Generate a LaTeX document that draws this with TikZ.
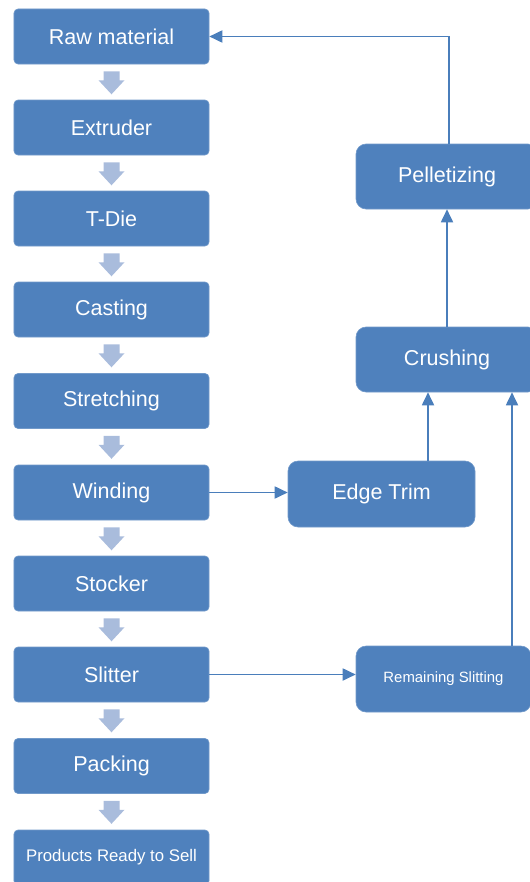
\documentclass[tikz,border=0pt]{standalone}
\usepackage{fontspec}
\setmainfont{Liberation Sans}
\usetikzlibrary{arrows.meta,calc}
\definecolor{boxblue}{HTML}{4F81BD}
\definecolor{lineblue}{HTML}{4A7EBB}
\definecolor{blockarr}{HTML}{A9BCDC}
\tikzset{
  leftbox/.style={fill=boxblue, draw=boxblue!80!white, line width=0.6bp, rounded corners=4bp,
    minimum width=195bp, minimum height=55bp, inner sep=0pt, text=white,
    font=\fontsize{21.5bp}{24bp}\selectfont},
  rightbox/.style={fill=boxblue, draw=boxblue!80!white, line width=0.6bp, rounded corners=10bp,
    minimum height=65bp, inner sep=0pt, text=white,
    font=\fontsize{21.5bp}{24bp}\selectfont},
  conn/.style={draw=lineblue, line width=1.8bp, -{Triangle[length=13bp,width=12bp]}},
  blockarrow/.style={fill=blockarr}
}
\newcommand{\blockarrowbetween}[1]{%
  \fill[blockarrow] ($(#1.south)+(-8,7)$) -- ($(#1.south)+(8,7)$) -- ($(#1.south)+(8,16)$)
    -- ($(#1.south)+(13,16)$) -- ($(#1.south)+(0,30)$) -- ($(#1.south)+(-13,16)$)
    -- ($(#1.south)+(-8,16)$) -- cycle;}
\begin{document}
\begin{tikzpicture}[x=1bp,y=-1bp]
\useasboundingbox (0,0) rectangle (530,882);
\clip (0,0) rectangle (530,882);
% left column
\node[leftbox] (raw)   at (111.5,36.5)  {Raw material};
\node[leftbox] (ext)   at (111.5,127.5) {Extruder};
\node[leftbox] (tdie)  at (111.5,218.5) {T-Die};
\node[leftbox] (cast)  at (111.5,309.5) {Casting};
\node[leftbox] (str)   at (111.5,401)   {Stretching};
\node[leftbox] (wind)  at (111.5,492.5) {Winding};
\node[leftbox] (stock) at (111.5,583.5) {Stocker};
\node[leftbox] (slit)  at (111.5,674.5) {Slitter};
\node[leftbox] (pack)  at (111.5,766)   {Packing};
\node[leftbox, font=\fontsize{16.8bp}{19bp}\selectfont] (prod) at (111.5,857.5) {Products Ready to Sell};
% block arrows
\blockarrowbetween{raw}
\blockarrowbetween{ext}
\blockarrowbetween{tdie}
\blockarrowbetween{cast}
\blockarrowbetween{str}
\blockarrowbetween{wind}
\blockarrowbetween{stock}
\blockarrowbetween{slit}
\blockarrowbetween{pack}
% right column
\node[rightbox, minimum width=182bp] (pel)   at (447,176.5) {Pelletizing};
\node[rightbox, minimum width=182bp] (crush) at (447,359.5) {Crushing};
\node[rightbox, minimum width=187bp, minimum height=66bp] (edge) at (381.5,494) {Edge Trim};
\node[rightbox, minimum width=175bp, minimum height=66bp, font=\fontsize{14.9bp}{17bp}\selectfont] (rem) at (443.5,679) {Remaining Slitting};
% connectors
\coordinate (ptop) at ([xshift=2bp]pel.north);
\coordinate (etop) at ([xshift=46.5bp]edge.north);
\coordinate (rtop) at ([xshift=68.5bp]rem.north);
\draw[conn] (ptop) |- (raw.east);
\draw[conn] (crush.north) -- (pel.south);
\draw[conn] (etop) -- (etop |- crush.south);
\draw[conn] (rtop) -- (rtop |- crush.south);
\draw[conn] (wind.east) -- (wind.east -| edge.west);
\draw[conn] (slit.east) -- (slit.east -| rem.west);
\end{tikzpicture}
\end{document}
